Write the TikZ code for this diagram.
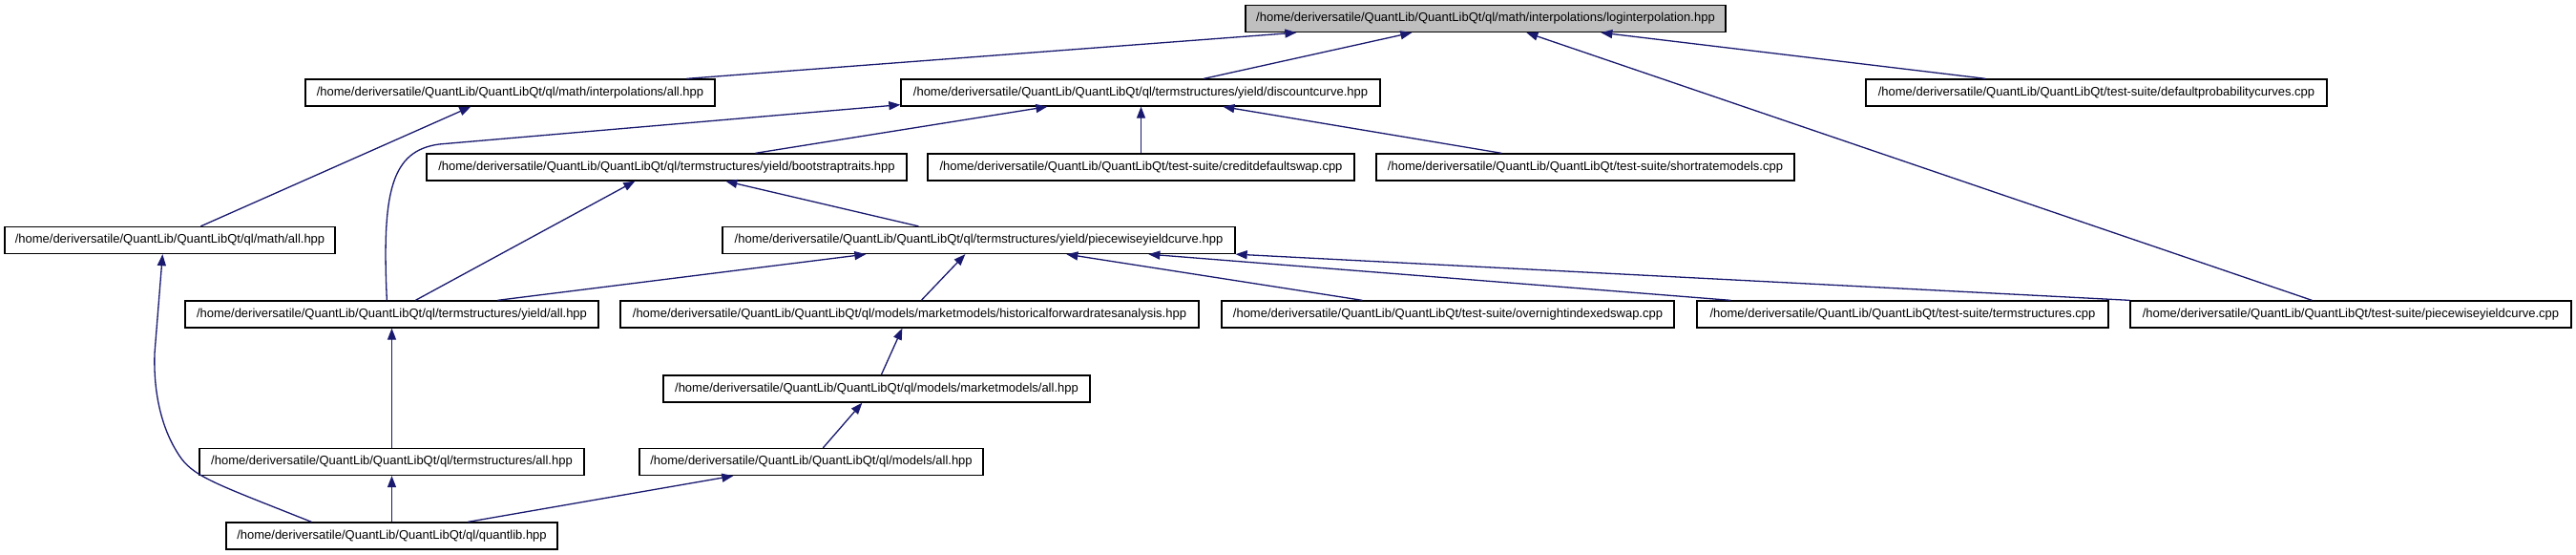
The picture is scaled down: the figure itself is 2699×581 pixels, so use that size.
\documentclass[tikz,border=0pt]{standalone}
\usepackage{fontspec}
\setmainfont{Liberation Sans}
\usetikzlibrary{arrows.meta}
\definecolor{edgeblue}{HTML}{191970}
\definecolor{rootgray}{HTML}{BFBFBF}
\tikzset{
  box/.style={draw=black, fill=white, line width=1.3pt, inner sep=0pt, minimum height=28pt,
    font=\fontsize{13}{15}\selectfont},
  rootbox/.style={box, fill=rootgray},
  dep/.style={draw=edgeblue, line width=1.3pt, -{Triangle[length=12pt,width=9pt]}}
}
\begin{document}
\begin{tikzpicture}[x=1pt,y=-1pt]
\useasboundingbox[fill=white] (0,0) rectangle (2699,581);
% nodes
\node[rootbox, minimum width=503pt] (L) at (1556.5,19.5) {/home/deriversatile/QuantLib/QuantLibQt/ql/math/interpolations/loginterpolation.hpp};
\node[box, minimum width=429pt] (mia) at (534.5,97) {/home/deriversatile/QuantLib/QuantLibQt/ql/math/interpolations/all.hpp};
\node[box, minimum width=502pt] (dc) at (1195,97) {/home/deriversatile/QuantLib/QuantLibQt/ql/termstructures/yield/discountcurve.hpp};
\node[box, minimum width=483pt] (dpc) at (2196.5,97) {/home/deriversatile/QuantLib/QuantLibQt/test-suite/defaultprobabilitycurves.cpp};
\node[box, minimum width=503pt] (bt) at (698.5,175) {/home/deriversatile/QuantLib/QuantLibQt/ql/termstructures/yield/bootstraptraits.hpp};
\node[box, minimum width=447pt] (cds) at (1195.5,175) {/home/deriversatile/QuantLib/QuantLibQt/test-suite/creditdefaultswap.cpp};
\node[box, minimum width=438pt] (srm) at (1661,175) {/home/deriversatile/QuantLib/QuantLibQt/test-suite/shortratemodels.cpp};
\node[box, minimum width=346pt] (ma) at (178,251.5) {/home/deriversatile/QuantLib/QuantLibQt/ql/math/all.hpp};
\node[box, minimum width=537pt] (pyc) at (1025.5,251.5) {/home/deriversatile/QuantLib/QuantLibQt/ql/termstructures/yield/piecewiseyieldcurve.hpp};
\node[box, minimum width=433pt] (ya) at (410.5,329) {/home/deriversatile/QuantLib/QuantLibQt/ql/termstructures/yield/all.hpp};
\node[box, minimum width=606pt] (hfra) at (953,329) {/home/deriversatile/QuantLib/QuantLibQt/ql/models/marketmodels/historicalforwardratesanalysis.hpp};
\node[box, minimum width=474pt] (ois) at (1517,329) {/home/deriversatile/QuantLib/QuantLibQt/test-suite/overnightindexedswap.cpp};
\node[box, minimum width=431pt] (tsc) at (1993.5,329) {/home/deriversatile/QuantLib/QuantLibQt/test-suite/termstructures.cpp};
\node[box, minimum width=462pt] (pycc) at (2463,329) {/home/deriversatile/QuantLib/QuantLibQt/test-suite/piecewiseyieldcurve.cpp};
\node[box, minimum width=447pt] (mma) at (918.5,407) {/home/deriversatile/QuantLib/QuantLibQt/ql/models/marketmodels/all.hpp};
\node[box, minimum width=403pt] (tsa) at (410.5,483.5) {/home/deriversatile/QuantLib/QuantLibQt/ql/termstructures/all.hpp};
\node[box, minimum width=360pt] (moa) at (850,483.5) {/home/deriversatile/QuantLib/QuantLibQt/ql/models/all.hpp};
\node[box, minimum width=347pt] (ql) at (410.5,561) {/home/deriversatile/QuantLib/QuantLibQt/ql/quantlib.hpp};
% edges
\draw[dep] ([xshift=400pt]mia.north west) -- ([xshift=54pt]L.south west);
\draw[dep] ([xshift=318pt]dc.north west) -- ([xshift=175pt]L.south west);
\draw[dep] ([xshift=191pt]pycc.north west) -- ([xshift=295pt]L.south west);
\draw[dep] ([xshift=126pt]dpc.north west) -- ([xshift=373pt]L.south west);
\draw[dep] ([xshift=206pt]ma.north west) -- ([xshift=174pt]mia.south west);
\draw[dep] ([xshift=212pt]ya.north west) .. controls (400,200) and (410,158) .. (460,151) -- ([yshift=2pt]dc.south west);
\draw[dep] ([xshift=345pt]bt.north west) -- ([xshift=154pt]dc.south west);
\draw[dep] (cds.north) -- (cds.north |- dc.south);
\draw[dep] ([xshift=132pt]srm.north west) -- ([xshift=338pt]dc.south west);
\draw[dep] ([xshift=242pt]ya.north west) -- ([xshift=219pt]bt.south west);
\draw[dep] ([xshift=206pt]pyc.north west) -- ([xshift=314pt]bt.south west);
\draw[dep] ([xshift=328pt]ya.north west) -- ([xshift=151pt]pyc.south west);
\draw[dep] ([xshift=316pt]hfra.north west) -- ([xshift=255pt]pyc.south west);
\draw[dep] ([xshift=148pt]ois.north west) -- ([xshift=361pt]pyc.south west);
\draw[dep] ([xshift=36pt]tsc.north west) -- ([xshift=447pt]pyc.south west);
\draw[dep] (pycc.north west) -- (pyc.south east);
\draw[dep] ([xshift=193pt]moa.north west) -- ([xshift=209pt]mma.south west);
\draw[dep] ([xshift=229pt]mma.north west) -- ([xshift=296pt]hfra.south west);
\draw[dep] (tsa.north) -- (tsa.north |- ya.south);
\draw[dep] (ql.north) -- (ql.north |- tsa.south);
\draw[dep] ([xshift=254pt]ql.north west) -- ([xshift=99pt]moa.south west);
\draw[dep] ([xshift=90pt]ql.north west) .. controls (230,508) and (205,500) .. (190,480) .. controls (165,445) and (161,400) .. (162,370) -- ([xshift=166pt]ma.south west);
\end{tikzpicture}
\end{document}
